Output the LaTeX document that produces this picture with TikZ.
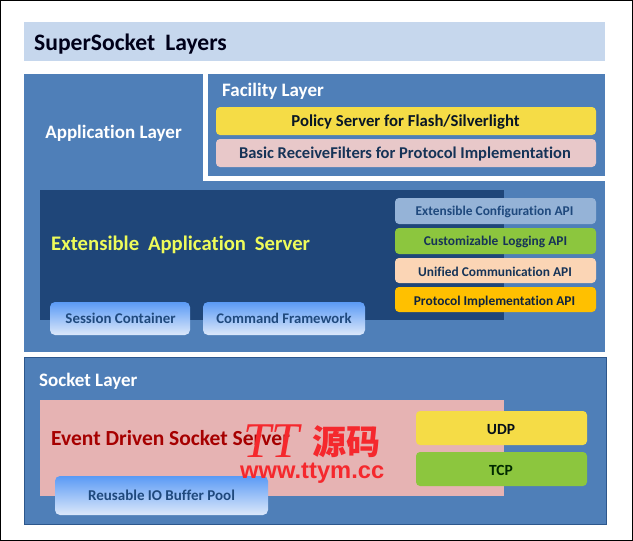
\documentclass[tikz,border=0pt]{standalone}
\usepackage{fontspec}
\setmainfont[Ligatures=NoCommon]{Carlito}
\newfontfamily\cjk{Noto Sans CJK SC}
\newfontfamily\wm{Liberation Sans}
\newfontfamily\wmserif{Liberation Serif}
\definecolor{bandblue}{HTML}{4F7FB8}
\definecolor{darkblue}{HTML}{1F4679}
\definecolor{titleblue}{HTML}{C6D7ED}
\definecolor{inkblue}{HTML}{1F497D}
\definecolor{yellowbox}{HTML}{F5DC46}
\definecolor{pinkbox}{HTML}{E8C8C9}
\definecolor{cfgblue}{HTML}{95B3D7}
\definecolor{greenbox}{HTML}{8CC63E}
\definecolor{peachbox}{HTML}{FBD5B5}
\definecolor{orangebox}{HTML}{FFC000}
\definecolor{eventpink}{HTML}{E6B3B3}
\definecolor{wmred}{HTML}{F5282D}
\definecolor{glasstop}{HTML}{5A9AF5}
\definecolor{glassmid}{HTML}{75ACF6}
\definecolor{glassbot}{HTML}{DCE8FA}
\definecolor{yellowtext}{HTML}{EEFB5A}
\tikzset{
  x=1pt,y=-1pt,
  pill/.style={rounded corners=4pt,fill=#1,draw=none},
  glass/.style={rounded corners=5pt,draw=none,top color=glasstop,middle color=glassmid,bottom color=glassbot},
  lbl/.style={inner sep=0,anchor=base}
}
\begin{document}
\begin{tikzpicture}
\useasboundingbox (0,0) rectangle (633,541);
\fill[white] (0,0) rectangle (633,541);
\draw[black,line width=1.5pt] (0.7,0.7) rectangle (632.3,540.3);
% title
\fill[titleblue] (24,22) rectangle (605,61);
\node[lbl,anchor=base west,font=\bfseries\fontsize{23.6}{27}\selectfont,text=black!90!blue] (title) at (34,50) {SuperSocket\hspace{0.2em} Layers};
% application layer
\fill[bandblue] (24,74) rectangle (605,352);
\fill[white] (203,74) rectangle (605,181);
\fill[bandblue] (208,74) rectangle (605,176);
\node[lbl,text=white,font=\bfseries\fontsize{19}{22}\selectfont] (applabel) at (113.5,138) {Application Layer};
\node[lbl,anchor=base west,text=white,font=\bfseries\fontsize{19}{22}\selectfont] (faclabel) at (222,96) {Facility Layer};
\fill[pill=yellowbox] (216,107) rectangle (596,135);
\node[lbl,text=inkblue!30!black,font=\bfseries\fontsize{16.7}{19}\selectfont] (policy) at (405.5,126) {Policy Server for Flash/Silverlight};
\fill[pill=pinkbox] (216,139) rectangle (596,167);
\node[lbl,text=inkblue!70!black,font=\bfseries\fontsize{16.5}{19}\selectfont] (basic) at (405,158) {Basic ReceiveFilters for Protocol Implementation};
% extensible server
\fill[darkblue] (40,190) rectangle (504,320);
\node[lbl,anchor=base west,text=yellowtext,font=\bfseries\fontsize{20.7}{24}\selectfont] (ext) at (51,250) {Extensible\hspace{0.2em} Application\hspace{0.2em} Server};
\fill[pill=cfgblue] (395,198) rectangle (596,224);
\node[lbl,text=inkblue,font=\bfseries\fontsize{13.4}{15}\selectfont] (cfg) at (494.5,215) {Extensible Configuration API};
\fill[pill=greenbox] (395,228) rectangle (596,254);
\node[lbl,text=inkblue!70!black,font=\bfseries\fontsize{13.4}{15}\selectfont] (log) at (495.5,245) {Customizable\hspace{0.12em} Logging API};
\fill[pill=peachbox] (395,258) rectangle (596,283);
\node[lbl,text=inkblue!70!black,font=\bfseries\fontsize{13.4}{15}\selectfont] (uni) at (495,276) {Unified Communication API};
\fill[pill=orangebox] (395,287) rectangle (596,312);
\node[lbl,text=inkblue!50!black,font=\bfseries\fontsize{13.4}{15}\selectfont] (proto) at (494.5,305) {Protocol Implementation API};
\shade[glass] (50,302) rectangle (190,335);
\node[lbl,text=inkblue,font=\bfseries\fontsize{14.9}{16}\selectfont] (sess) at (120.5,323) {Session Container};
\shade[glass] (203,302) rectangle (365,335);
\node[lbl,text=inkblue,font=\bfseries\fontsize{14.7}{16}\selectfont] (cmd) at (284,323) {Command Framework};
% socket layer
\fill[bandblue,draw=darkblue!70!bandblue] (24,357) rectangle (606,524);
\node[lbl,anchor=base west,text=white,font=\bfseries\fontsize{19}{22}\selectfont] (socklabel) at (39,386) {Socket Layer};
\fill[eventpink] (40,400) rectangle (504,496);
\node[lbl,anchor=base west,text=red!65!black,font=\bfseries\fontsize{21.5}{24}\selectfont] (event) at (51,445) {Event Driven Socket Server};
\fill[pill=yellowbox] (416,411) rectangle (587,445);
\node[lbl,text=black!80!inkblue,font=\bfseries\fontsize{15.5}{18}\selectfont] (udp) at (501,434) {UDP};
\fill[pill=greenbox] (416,452) rectangle (587,486);
\node[lbl,text=black!60!green!40!black,font=\bfseries\fontsize{15.5}{18}\selectfont] (tcp) at (501,475) {TCP};
\shade[glass] (55,476) rectangle (268,515);
\node[lbl,text=inkblue,font=\bfseries\fontsize{15}{16}\selectfont] (pool) at (161.5,500) {Reusable IO Buffer Pool};
% watermark
\node[lbl,anchor=base west,text=wmred,font=\wmserif\itshape\fontsize{50}{52}\selectfont] (wm1) at (243,457) {TT};
\node[lbl,anchor=base west,text=wmred,font=\cjk\bfseries\fontsize{34}{36}\selectfont] (wm2) at (312,454) {源码};
\node[lbl,anchor=base west,text=wmred,font=\wm\bfseries\fontsize{23.7}{26}\selectfont] (wm3) at (240,478) {www.ttym.cc};
\end{tikzpicture}
\end{document}
